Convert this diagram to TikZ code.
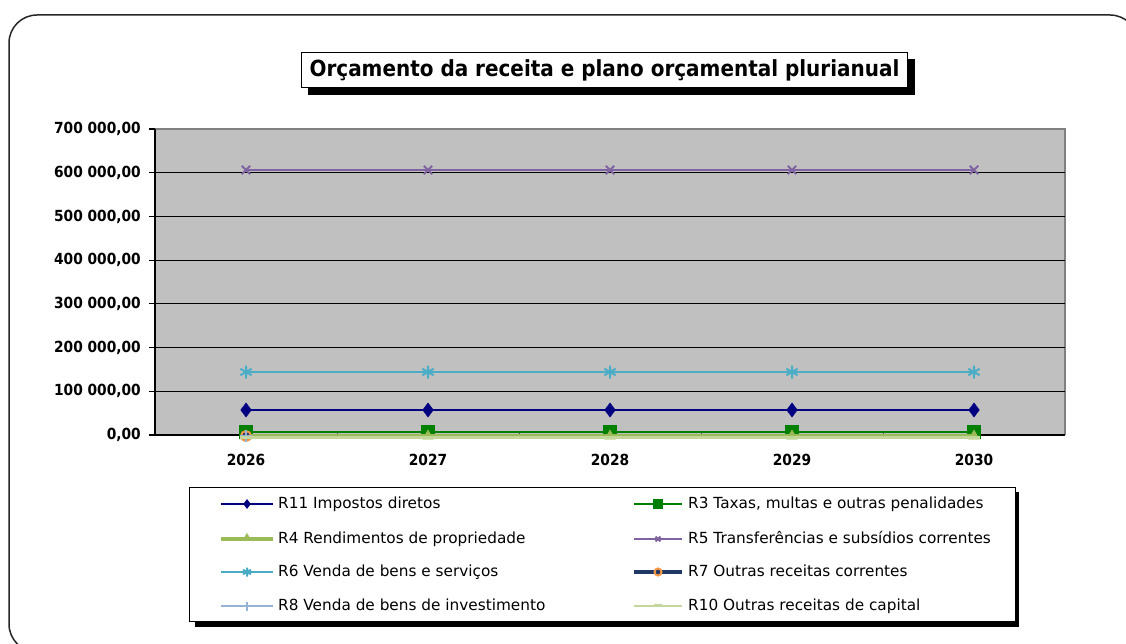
\documentclass[tikz,border=0pt]{standalone}
\usepackage{fontspec}
\setmainfont{DejaVu Sans}
\newfontfamily\condfont{DejaVu Sans Condensed}
\usetikzlibrary{plotmarks}
\definecolor{cR11}{RGB}{0,0,128}
\definecolor{cR3}{RGB}{0,128,0}
\definecolor{cR4}{RGB}{155,187,89}
\definecolor{cR5}{RGB}{128,100,162}
\definecolor{cR6}{RGB}{75,172,198}
\definecolor{cR7}{RGB}{31,56,100}
\definecolor{cR7o}{RGB}{247,150,70}
\definecolor{cR8}{RGB}{149,179,215}
\definecolor{cR10}{RGB}{195,214,155}
\definecolor{plotgray}{RGB}{192,192,192}
\tikzset{
  sR11/.style={draw=cR11, line width=2.5, mark=diamond*, mark size=7, mark options={fill=cR11, draw=cR11, line width=0.5}},
  sR3/.style={draw=cR3, line width=2.5, mark=square*, mark size=6.5, mark options={fill=cR3, draw=cR3, line width=0.5}},
  sR4/.style={draw=cR4, line width=3.5, mark=triangle*, mark size=6, mark options={fill=cR4, draw=cR4, line width=0.5}},
  sR5/.style={draw=cR5, line width=2.5, mark=x, mark size=6, mark options={draw=cR5, line width=2}},
  sR6/.style={draw=cR6, line width=2.5, mark=asterisk, mark size=6.5, mark options={draw=cR6, line width=2}},
  sR7/.style={draw=cR7, line width=3.5, mark=*, mark size=5, mark options={fill=cR7, draw=cR7o, line width=2}},
  sR8/.style={draw=cR8, line width=2, mark=+, mark size=6, mark options={draw=cR8, line width=1.5}},
  sR10/.style={draw=cR10, line width=3, mark=-, mark size=6, mark options={draw=cR10, line width=3}},
  ylab/.style={anchor=east, font=\condfont\fontsize{15.3}{17}\selectfont\bfseries, inner sep=0},
  xlab/.style={anchor=center, font=\condfont\fontsize{15.3}{17}\selectfont\bfseries, inner sep=0},
  legtext/.style={anchor=west, font=\fontsize{15.3}{17}\selectfont, inner sep=0, text height=11, text depth=3},
}
\begin{document}
\begin{tikzpicture}[x=1pt,y=-1pt]
\useasboundingbox (0,0) rectangle (1126,644);
\fill[white] (0,0) rectangle (1126,644);
% outer frame
\draw[line width=1.5, black!85, rounded corners=28] (9,15) rectangle (1138,652);
% title
\fill[black] (308,59) rectangle (915,95);
\node[draw=black, fill=white, line width=1, minimum width=606, minimum height=35, inner sep=0, anchor=north west,
      font=\condfont\fontsize{22.2}{25}\selectfont\bfseries] (title) at (301,52) {Orçamento da receita e plano orçamental plurianual};
% plot area
\fill[plotgray] (155,129) rectangle (1065,435);
\draw[black!50, line width=1.2] (155,129) -- (1065,129) -- (1065,435);
\foreach \i in {1,...,6} {
  \draw[black, line width=1] (155,{435-\i*43.714}) -- (1065,{435-\i*43.714});
}
% axes
\draw[black, line width=2] (155,129) -- (155,436);
\draw[black, line width=1.5] (154,435) -- (1065,435);
\foreach \i/\t in {0/{0,00},1/{100 000,00},2/{200 000,00},3/{300 000,00},4/{400 000,00},5/{500 000,00},6/{600 000,00},7/{700 000,00}} {
  \draw[black, line width=1.2] (149,{435-\i*43.714}) -- (155,{435-\i*43.714});
  \node[ylab] (yl\i) at (141,{435-\i*43.714}) {\t};
}
\foreach \k in {1,...,4} {
  \draw[black!70, line width=1] ({155+\k*182},433) -- ({155+\k*182},437);
}
\foreach \k/\yr in {0/2026,1/2027,2/2028,3/2029,4/2030} {
  \node[xlab] (xl\k) at ({246+\k*182},460) {\yr};
}
% series
\draw[sR11] plot coordinates {(246,410) (428,410) (610,410) (792,410) (974,410)};
\draw[sR3] plot coordinates {(246,432) (428,432) (610,432) (792,432) (974,432)};
\draw[sR4] plot coordinates {(246,436) (428,436) (610,436) (792,436) (974,436)};
\draw[sR5] plot coordinates {(246,170) (428,170) (610,170) (792,170) (974,170)};
\draw[sR6] plot coordinates {(246,372) (428,372) (610,372) (792,372) (974,372)};
\draw[sR7] plot coordinates {(246,436)};
\draw[sR8] plot coordinates {(246,436)};
\draw[sR10] plot coordinates {(246,437) (428,437) (610,437) (792,437) (974,437)};
% legend
\fill[black] (195,492) rectangle (1019,627);
\node[draw=black, fill=white, line width=1, minimum width=826, minimum height=134, inner sep=0, anchor=north west] (legend) at (189,487) {};
\draw[sR11, line width=2] (221,504) -- (273,504);
\path[sR11, mark size=4.5] plot coordinates {(247,504)};
\draw[sR4, line width=4] (221,539) -- (273,539);
\path[sR4, mark size=4.5] plot coordinates {(247,538)};
\draw[sR6, line width=2] (221,572) -- (273,572);
\path[sR6, mark size=4.5] plot coordinates {(247,572)};
\draw[sR8, line width=2] (221,606) -- (273,606);
\path[sR8, mark size=4.5] plot coordinates {(247,606)};
\draw[sR3, line width=2] (634,504) -- (682,504);
\path[sR3, mark size=4.5] plot coordinates {(658,504)};
\draw[sR5, line width=2] (634,539) -- (682,539);
\path[sR5, mark size=3.5] plot coordinates {(658,539)};
\draw[sR7, line width=3.5] (634,572) -- (682,572);
\path[sR7, mark size=3.5] plot coordinates {(658,572)};
\draw[sR10, line width=2.5] (634,606) -- (682,606);
\path[sR10, mark size=4] plot coordinates {(658,605.5)};
\node[legtext] (l1) at (278,504) {R11 Impostos diretos};
\node[legtext] (l2) at (278,539) {R4 Rendimentos de propriedade};
\node[legtext] (l3) at (278,572) {R6 Venda de bens e serviços};
\node[legtext] (l4) at (278,606) {R8 Venda de bens de investimento};
\node[legtext] (l5) at (688,504) {R3 Taxas, multas e outras penalidades};
\node[legtext] (l6) at (688,539) {R5 Transferências e subsídios correntes};
\node[legtext] (l7) at (688,572) {R7 Outras receitas correntes};
\node[legtext] (l8) at (688,606) {R10 Outras receitas de capital};
\end{tikzpicture}
\end{document}
